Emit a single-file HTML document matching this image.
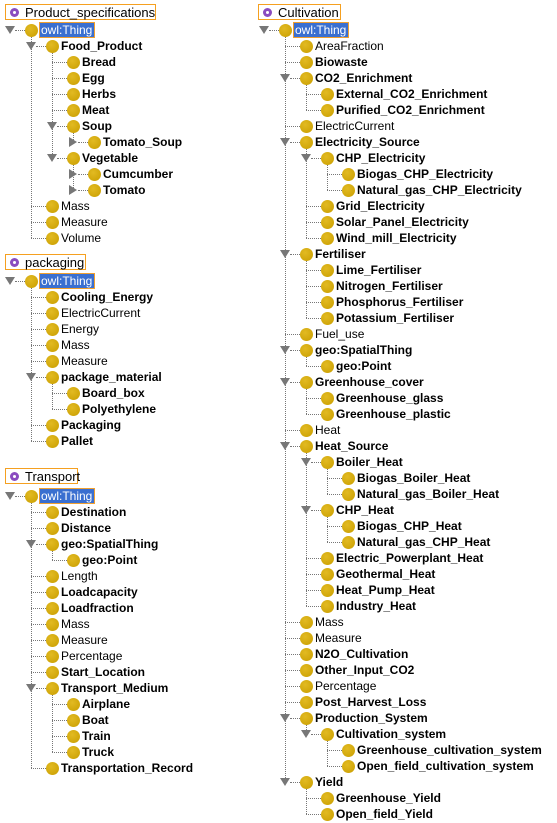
<!DOCTYPE html>
<html><head><meta charset="utf-8">
<style>
body{margin:0;width:557px;height:823px;background:#fff;position:relative;overflow:hidden;font-family:"Liberation Sans",Arial,sans-serif;font-size:12px;color:#000}
.n{position:absolute;white-space:nowrap;height:16px;line-height:17px}
.b{font-weight:bold}
.hd{position:absolute;border:1px solid #f5a020;height:16px;line-height:15px;font-size:13px;padding-left:19px;padding-right:2px;box-sizing:border-box}
.hd:before{content:"";position:absolute;left:4px;top:3px;width:9px;height:9px;border-radius:50%;background:#8a4cc0}
.hd:after{content:"";position:absolute;left:7px;top:6px;width:3px;height:3px;background:#fff;border-radius:50%;box-shadow:0 0 0 0 #fff}
.c{position:absolute;width:13px;height:13px;border-radius:50%;background:radial-gradient(circle at 40% 35%,#e2ba22,#c99e00)}
.vl{position:absolute;width:0;border-left:1px dotted #777}
.hl{position:absolute;height:0;border-top:1px dotted #777}
.td{position:absolute;width:0;height:0;border-left:5px solid transparent;border-right:5px solid transparent;border-top:8px solid #777}
.tr{position:absolute;width:0;height:0;border-top:5px solid transparent;border-bottom:5px solid transparent;border-left:8px solid #777}
.sel{background:#3a6fd0;color:#fff;outline:1px solid #f0a030;padding:0 2px 0 1px}
</style></head><body>
<div class="hd" style="left:5px;top:4px;width:151px">Product_specifications</div>
<div class="hd" style="left:258px;top:4px;width:83px">Cultivation</div>
<div class="hd" style="left:5px;top:254px;width:81px">packaging</div>
<div class="hd" style="left:5px;top:468px;width:73px">Transport</div>

<div class="tree" data-x="0" data-y="30">
<div class="n" data-l="0" data-t="e"><span class="sel">owl:Thing</span></div>
<div class="n b" data-l="1" data-t="e">Food_Product</div>
<div class="n b" data-l="2">Bread</div>
<div class="n b" data-l="2">Egg</div>
<div class="n b" data-l="2">Herbs</div>
<div class="n b" data-l="2">Meat</div>
<div class="n b" data-l="2" data-t="e">Soup</div>
<div class="n b" data-l="3" data-t="c">Tomato_Soup</div>
<div class="n b" data-l="2" data-t="e">Vegetable</div>
<div class="n b" data-l="3" data-t="c">Cumcumber</div>
<div class="n b" data-l="3" data-t="c">Tomato</div>
<div class="n" data-l="1">Mass</div>
<div class="n" data-l="1">Measure</div>
<div class="n" data-l="1">Volume</div>
</div>

<div class="tree" data-x="0" data-y="281">
<div class="n" data-l="0" data-t="e"><span class="sel">owl:Thing</span></div>
<div class="n b" data-l="1">Cooling_Energy</div>
<div class="n" data-l="1">ElectricCurrent</div>
<div class="n" data-l="1">Energy</div>
<div class="n" data-l="1">Mass</div>
<div class="n" data-l="1">Measure</div>
<div class="n b" data-l="1" data-t="e">package_material</div>
<div class="n b" data-l="2">Board_box</div>
<div class="n b" data-l="2">Polyethylene</div>
<div class="n b" data-l="1">Packaging</div>
<div class="n b" data-l="1">Pallet</div>
</div>

<div class="tree" data-x="0" data-y="496">
<div class="n" data-l="0" data-t="e"><span class="sel">owl:Thing</span></div>
<div class="n b" data-l="1">Destination</div>
<div class="n b" data-l="1">Distance</div>
<div class="n b" data-l="1" data-t="e">geo:SpatialThing</div>
<div class="n b" data-l="2">geo:Point</div>
<div class="n" data-l="1">Length</div>
<div class="n b" data-l="1">Loadcapacity</div>
<div class="n b" data-l="1">Loadfraction</div>
<div class="n" data-l="1">Mass</div>
<div class="n" data-l="1">Measure</div>
<div class="n" data-l="1">Percentage</div>
<div class="n b" data-l="1">Start_Location</div>
<div class="n b" data-l="1" data-t="e">Transport_Medium</div>
<div class="n b" data-l="2">Airplane</div>
<div class="n b" data-l="2">Boat</div>
<div class="n b" data-l="2">Train</div>
<div class="n b" data-l="2">Truck</div>
<div class="n b" data-l="1">Transportation_Record</div>
</div>

<div class="tree" data-x="254" data-y="30">
<div class="n" data-l="0" data-t="e"><span class="sel">owl:Thing</span></div>
<div class="n" data-l="1">AreaFraction</div>
<div class="n b" data-l="1">Biowaste</div>
<div class="n b" data-l="1" data-t="e">CO2_Enrichment</div>
<div class="n b" data-l="2">External_CO2_Enrichment</div>
<div class="n b" data-l="2">Purified_CO2_Enrichment</div>
<div class="n" data-l="1">ElectricCurrent</div>
<div class="n b" data-l="1" data-t="e">Electricity_Source</div>
<div class="n b" data-l="2" data-t="e">CHP_Electricity</div>
<div class="n b" data-l="3">Biogas_CHP_Electricity</div>
<div class="n b" data-l="3">Natural_gas_CHP_Electricity</div>
<div class="n b" data-l="2">Grid_Electricity</div>
<div class="n b" data-l="2">Solar_Panel_Electricity</div>
<div class="n b" data-l="2">Wind_mill_Electricity</div>
<div class="n b" data-l="1" data-t="e">Fertiliser</div>
<div class="n b" data-l="2">Lime_Fertiliser</div>
<div class="n b" data-l="2">Nitrogen_Fertiliser</div>
<div class="n b" data-l="2">Phosphorus_Fertiliser</div>
<div class="n b" data-l="2">Potassium_Fertiliser</div>
<div class="n" data-l="1">Fuel_use</div>
<div class="n b" data-l="1" data-t="e">geo:SpatialThing</div>
<div class="n b" data-l="2">geo:Point</div>
<div class="n b" data-l="1" data-t="e">Greenhouse_cover</div>
<div class="n b" data-l="2">Greenhouse_glass</div>
<div class="n b" data-l="2">Greenhouse_plastic</div>
<div class="n" data-l="1">Heat</div>
<div class="n b" data-l="1" data-t="e">Heat_Source</div>
<div class="n b" data-l="2" data-t="e">Boiler_Heat</div>
<div class="n b" data-l="3">Biogas_Boiler_Heat</div>
<div class="n b" data-l="3">Natural_gas_Boiler_Heat</div>
<div class="n b" data-l="2" data-t="e">CHP_Heat</div>
<div class="n b" data-l="3">Biogas_CHP_Heat</div>
<div class="n b" data-l="3">Natural_gas_CHP_Heat</div>
<div class="n b" data-l="2">Electric_Powerplant_Heat</div>
<div class="n b" data-l="2">Geothermal_Heat</div>
<div class="n b" data-l="2">Heat_Pump_Heat</div>
<div class="n b" data-l="2">Industry_Heat</div>
<div class="n" data-l="1">Mass</div>
<div class="n" data-l="1">Measure</div>
<div class="n b" data-l="1">N2O_Cultivation</div>
<div class="n b" data-l="1">Other_Input_CO2</div>
<div class="n" data-l="1">Percentage</div>
<div class="n b" data-l="1">Post_Harvest_Loss</div>
<div class="n b" data-l="1" data-t="e">Production_System</div>
<div class="n b" data-l="2" data-t="e">Cultivation_system</div>
<div class="n b" data-l="3">Greenhouse_cultivation_system</div>
<div class="n b" data-l="3">Open_field_cultivation_system</div>
<div class="n b" data-l="1" data-t="e">Yield</div>
<div class="n b" data-l="2">Greenhouse_Yield</div>
<div class="n b" data-l="2">Open_field_Yield</div>
</div>

<script>
document.querySelectorAll('.tree').forEach(function(tree){
  var X=+tree.dataset.x, Y=+tree.dataset.y;
  var rows=[].slice.call(tree.querySelectorAll('.n'));
  function add(cls,st){var d=document.createElement('div');d.className=cls;d.style.cssText=st;document.body.appendChild(d);}
  var info=rows.map(function(r,i){return {l:+r.dataset.l,t:r.dataset.t||'',y:Y+i*16};});
  info.forEach(function(o,i){
    var r=rows[i];
    var cx=X+31+21*o.l;
    r.style.left=(cx+9)+'px';
    r.style.top=(o.y-8)+'px';
    add('c','left:'+(cx-6)+'px;top:'+(o.y-6)+'px');
    var lx=cx-21;
    add('hl','left:'+(lx+(o.t?5:0))+'px;top:'+o.y+'px;width:'+(21-(o.t?5:0)-6)+'px');
    if(o.t==='e') add('td','left:'+(lx-5)+'px;top:'+(o.y-4)+'px');
    if(o.t==='c') add('tr','left:'+(lx-4)+'px;top:'+(o.y-5)+'px');
    var last=-1;
    for(var j=i+1;j<info.length && info[j].l>o.l;j++){ if(info[j].l===o.l+1) last=j; }
    if(last>0 && o.t==='e'){
      add('vl','left:'+cx+'px;top:'+(o.y+7)+'px;height:'+(info[last].y-o.y-7)+'px');
    }
  });
});
</script>
</body></html>
